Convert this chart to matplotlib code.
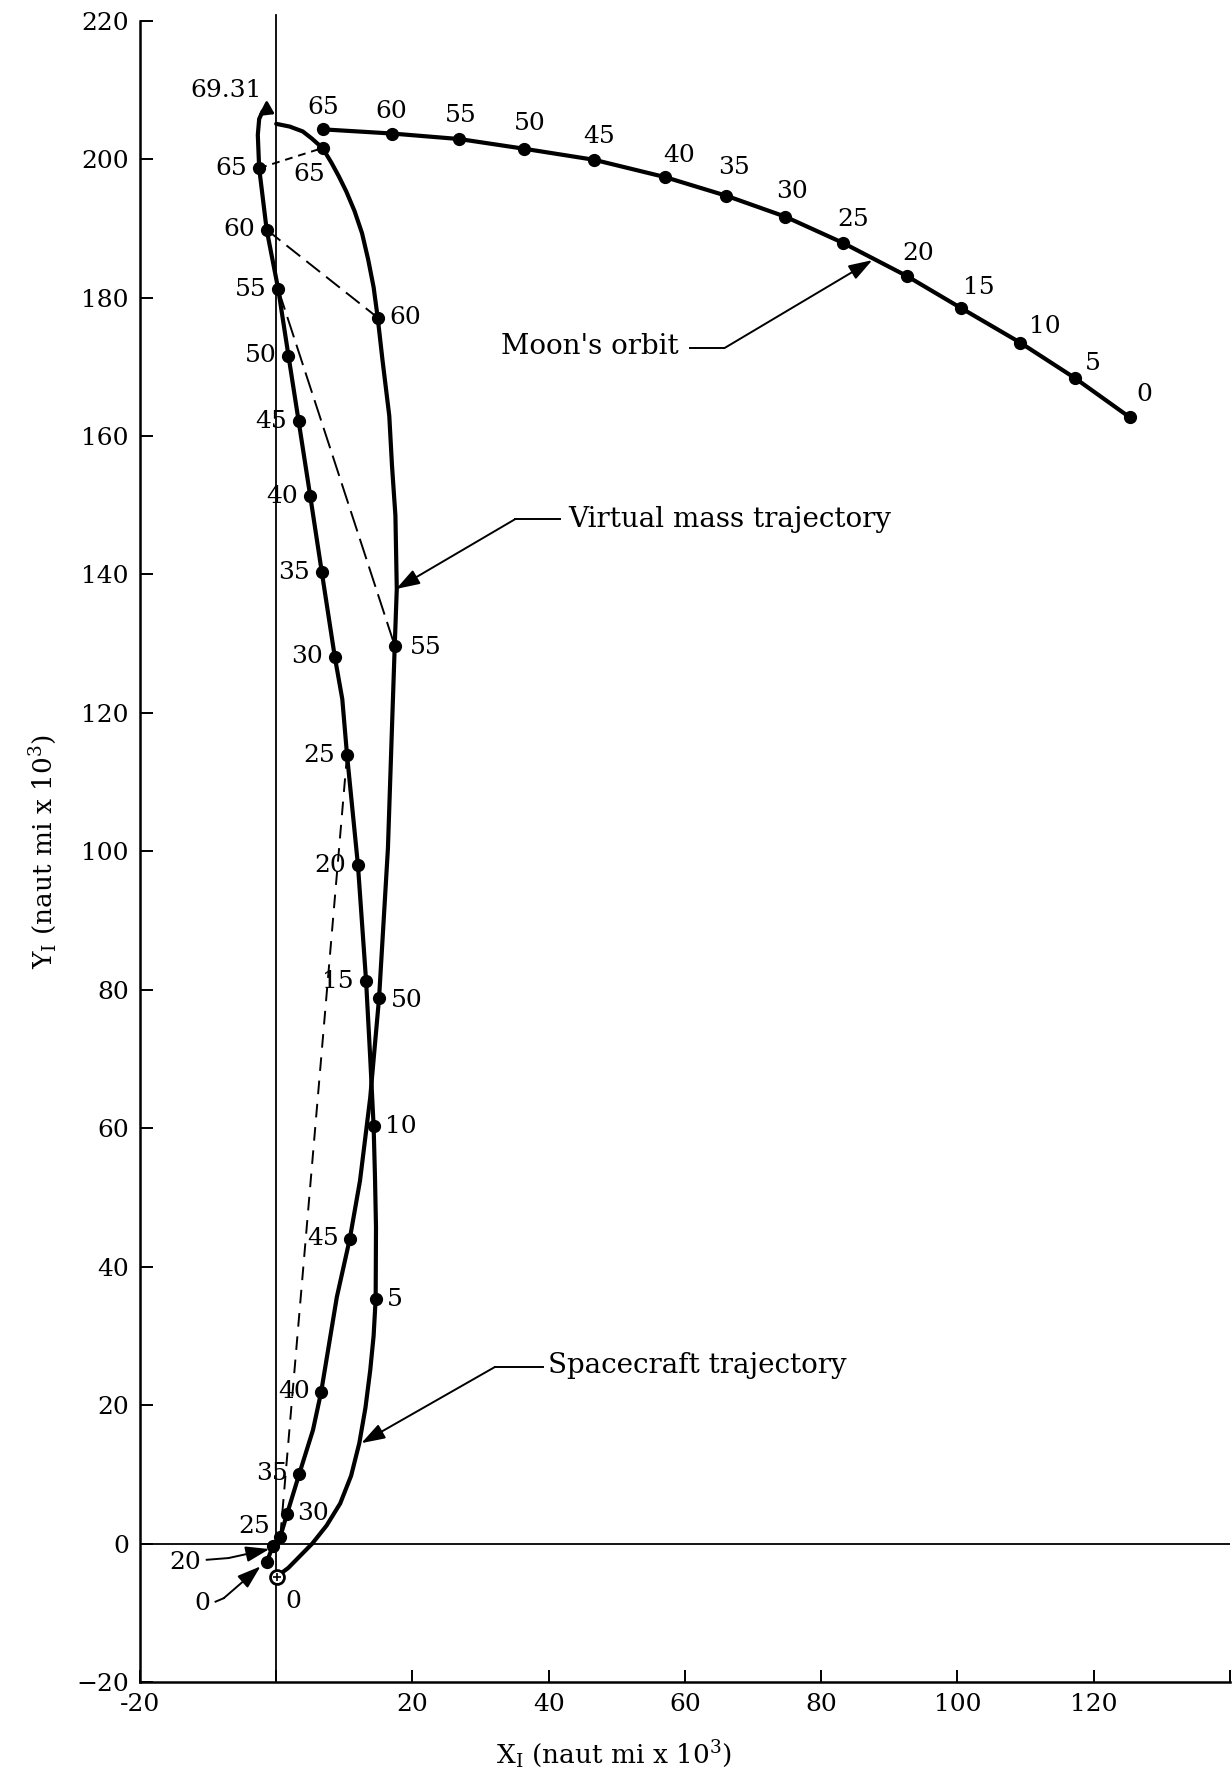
import matplotlib.pyplot as plt

plt.rcParams.update({
    "font.family": "DejaVu Serif",
    "mathtext.fontset": "dejavuserif",
    "font.size": 18,
})

# Positions in thousands of nautical miles, marked every 5 hr.
moon_t = [65, 60, 55, 50, 45, 40, 35, 30, 25, 20, 15, 10, 5, 0]
moon_x = [6.9, 17.0, 26.9, 36.4, 46.7, 57.1, 66.1, 74.7, 83.2, 92.6, 100.5, 109.2, 117.2, 125.3]
moon_y = [204.3, 203.7, 202.9, 201.5, 199.9, 197.4, 194.7, 191.7, 187.9, 183.1, 178.5, 173.5, 168.4, 162.7]

# spacecraft: traced path and the 5-hr marks on it
sc_path_x = [0.1, 0.6, 1.8, 3.3, 5.3, 7.4, 9.4, 11.0, 12.2, 13.1, 13.8, 14.3, 14.6, 14.65,
             14.5, 14.3, 13.8, 13.2, 12.0, 10.4, 9.7, 8.6, 6.7, 5.0, 3.3, 1.8, 0.3, -1.4,
             -2.5, -2.7, -2.5, -2.0, -1.4]
sc_path_y = [-4.8, -4.4, -3.5, -2.0, 0.0, 2.6, 5.8, 9.8, 14.5, 19.6, 25.0, 30.0, 35.3, 45.7,
             53.0, 60.3, 70.2, 81.2, 98.0, 113.9, 122.0, 128.1, 140.3, 151.3, 162.1, 171.6,
             181.2, 189.8, 198.7, 203.5, 205.8, 206.9, 207.1]
sc_t = [0, 5, 10, 15, 20, 25, 30, 35, 40, 45, 50, 55, 60, 65]
sc_x = [0.1, 14.6, 14.3, 13.2, 12.0, 10.4, 8.6, 6.7, 5.0, 3.3, 1.8, 0.3, -1.4, -2.5]
sc_y = [-4.8, 35.3, 60.3, 81.2, 98.0, 113.9, 128.1, 140.3, 151.3, 162.1, 171.6, 181.2, 189.8, 198.7]
sc_end_x, sc_end_y = -0.2, 206.5
sc_end_label = "69.31"

# virtual mass: traced path and marks
vm_path_x = [-1.4, -0.5, 0.6, 1.6, 3.4, 5.4, 6.6, 8.9, 10.8, 12.3, 13.8, 15.1, 16.4, 17.4,
             17.7, 17.5, 17.0, 16.6, 15.6, 14.9, 14.3, 13.5, 12.6, 11.5, 10.3, 9.2, 8.1,
             6.8, 5.2, 3.9, 2.0, 0.0]
vm_path_y = [-2.7, -0.4, 1.0, 4.3, 10.1, 16.4, 21.9, 35.6, 44.0, 52.4, 64.4, 78.8, 100.4,
             129.7, 137.9, 148.5, 155.7, 162.9, 171.0, 177.1, 181.5, 185.5, 189.3, 192.5,
             195.3, 197.5, 199.5, 201.6, 203.0, 204.0, 204.7, 205.1]
vm_t = [0, 20, 25, 30, 35, 40, 45, 50, 55, 60, 65]
vm_x = [-1.4, -0.5, 0.6, 1.6, 3.4, 6.6, 10.8, 15.1, 17.4, 14.9, 6.8]
vm_y = [-2.7, -0.4, 1.0, 4.3, 10.1, 21.9, 44.0, 78.8, 129.7, 177.1, 201.6]

# simultaneous points joined by dashed lines
tie_times = [65, 60, 55, 25]

x_ticks = [-20, 0, 20, 40, 60, 80, 100, 120, 140]
x_tick_labels = ["-20", "", "20", "40", "60", "80", "100", "120", ""]
y_ticks = list(range(-20, 221, 20))

fig = plt.figure(figsize=(12.32, 17.84), dpi=100)
ax = fig.add_axes([0.1136, 0.0572, 0.8847, 0.9312])
ax.set_xlim(-20, 140)
ax.set_ylim(-20, 220)
for s in ("top", "right"):
    ax.spines[s].set_visible(False)
for s in ("left", "bottom"):
    ax.spines[s].set_linewidth(1.8)
ax.set_xticks(x_ticks)
ax.set_xticklabels(x_tick_labels)
ax.set_yticks(y_ticks)
ax.tick_params(direction="in", length=9, width=1.4, pad=8, labelsize=18)

ax.set_xlabel(r"X$_{\rm I}$ (naut mi x 10$^3$)", fontsize=19)
ax.xaxis.set_label_coords(0.435, -0.034)
ax.set_ylabel(r"Y$_{\rm I}$ (naut mi x 10$^3$)", fontsize=19)
ax.yaxis.set_label_coords(-0.074, 0.5)

# axes through the origin
ax.plot([0, 0], [-20, 220.8], color="k", lw=1.3, clip_on=False)
ax.axhline(0, color="k", lw=1.3)

lw = 3.0
ms = 8.5
ax.plot(moon_x, moon_y, color="k", lw=lw, solid_capstyle="round")
ax.plot(moon_x, moon_y, "o", color="k", ms=ms)
ax.plot(sc_path_x, sc_path_y, color="k", lw=lw, solid_capstyle="round")
ax.plot(sc_x[1:], sc_y[1:], "o", color="k", ms=ms)
ax.plot(sc_x[0], sc_y[0], "o", mfc="white", mec="k", mew=2, ms=10)
ax.plot(sc_x[0], sc_y[0], "+", color="k", mew=1.2, ms=6)
ax.plot(vm_path_x, vm_path_y, color="k", lw=lw, solid_capstyle="round")
ax.plot(vm_x, vm_y, "o", color="k", ms=ms)

# end of spacecraft path
ax.annotate("", xy=(sc_end_x, sc_end_y), xytext=(sc_path_x[-1], sc_path_y[-1]),
            arrowprops=dict(arrowstyle="-|>,head_length=0.6,head_width=0.4",
                            mutation_scale=12, color="k", lw=2, shrinkA=0, shrinkB=0))
ax.text(-7.3, 209.9, sc_end_label, ha="center", va="center", fontsize=18)

# dashed ties
dash_styles = {65: (0, (4, 3)), 60: (0, (9, 4)), 55: (0, (11, 4)), 25: (0, (7, 5))}
for t in tie_times:
    i, j = sc_t.index(t), vm_t.index(t)
    ax.plot([sc_x[i], vm_x[j]], [sc_y[i], vm_y[j]], color="k", lw=1.4,
            linestyle=dash_styles[t])

# moon labels
moon_off = [(0, 22), (-1, 22), (1, 24), (6, 25), (5, 23), (14, 22), (8, 28), (7, 25),
            (10, 23), (11, 23), (18, 20), (25, 16), (18, 14), (15, 23)]
for t, x, y, (dx, dy) in zip(moon_t, moon_x, moon_y, moon_off):
    ax.annotate(str(t), (x, y), xytext=(dx, dy), textcoords="offset pixels",
                ha="center", va="center", fontsize=18)

# spacecraft labels
for t, x, y in zip(sc_t, sc_x, sc_y):
    if t == 0:
        ax.annotate("0", (x, y), xytext=(16, -25), textcoords="offset pixels",
                    ha="center", va="center", fontsize=18)
    elif t in (5, 10):
        ax.annotate(str(t), (x, y), xytext=(11, 0), textcoords="offset pixels",
                    ha="left", va="center", fontsize=18)
    else:
        ax.annotate(str(t), (x, y), xytext=(-12, 0), textcoords="offset pixels",
                    ha="right", va="center", fontsize=18)

# virtual mass labels
vm_off = {25: (-10, 10, "right"), 30: (10, 0, "left"), 35: (-11, 0, "right"),
          40: (-11, 0, "right"), 45: (-11, 0, "right"), 50: (12, -2, "left"),
          55: (15, -2, "left"), 60: (12, 0, "left"), 65: (-13, -26, "center")}
for t, x, y in zip(vm_t, vm_x, vm_y):
    if t in vm_off:
        dx, dy, ha = vm_off[t]
        ax.annotate(str(t), (x, y), xytext=(dx, dy), textcoords="offset pixels",
                    ha=ha, va="center", fontsize=18)

arrow = dict(arrowstyle="-|>,head_length=0.9,head_width=0.3", color="k", lw=1.4,
             mutation_scale=16, shrinkA=0, shrinkB=0)

# callouts
ax.text(33.0, 173.0, "Moon's orbit", ha="left", va="center", fontsize=20)
ax.plot([60.8, 65.8], [172.7, 172.7], color="k", lw=1.4)
ax.annotate("", xy=(87.5, 185.4), xytext=(65.8, 172.7), arrowprops=arrow)

ax.text(42.9, 147.9, "Virtual mass trajectory", ha="left", va="center", fontsize=20)
ax.plot([35.1, 41.6], [148.0, 148.0], color="k", lw=1.4)
ax.annotate("", xy=(17.6, 137.9), xytext=(35.1, 148.0), arrowprops=arrow)

ax.text(39.9, 25.7, "Spacecraft trajectory", ha="left", va="center", fontsize=20)
ax.plot([32.1, 39.1], [25.5, 25.5], color="k", lw=1.4)
ax.annotate("", xy=(12.5, 14.5), xytext=(32.1, 25.5), arrowprops=arrow)

ax.text(-13.4, -2.8, "20", ha="center", va="center", fontsize=18)
ax.plot([-10.2, -7.0], [-2.35, -2.1], color="k", lw=1.4)
ax.annotate("", xy=(-1.0, -0.8), xytext=(-7.0, -2.1), arrowprops=arrow)

ax.text(-10.9, -8.6, "0", ha="center", va="center", fontsize=18)
ax.plot([-8.9, -7.7], [-8.4, -7.9], color="k", lw=1.4)
ax.annotate("", xy=(-2.3, -3.3), xytext=(-7.7, -7.9), arrowprops=arrow)

fig.savefig("out.png", dpi=100)
